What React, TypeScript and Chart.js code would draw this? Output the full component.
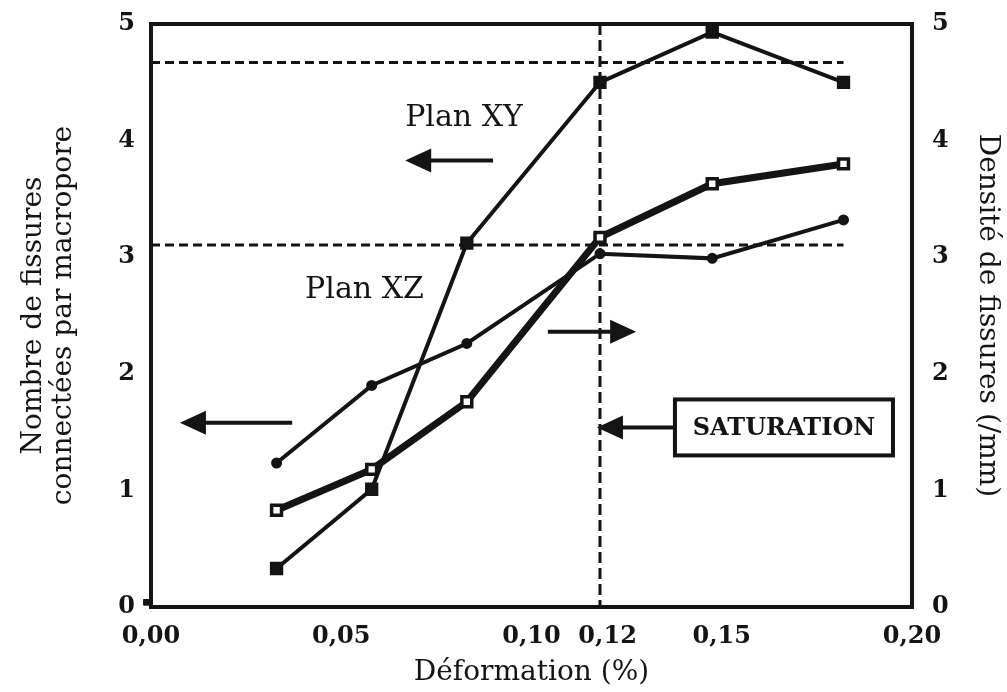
import React, { useEffect, useRef } from "react";
import { Chart, registerables } from "chart.js";

Chart.register(...registerables);

// ---- data ----
const deformation = [0.033, 0.058, 0.083, 0.118, 0.1475, 0.182];
const planXY = [0.33, 1.01, 3.12, 4.5, 4.93, 4.5];
const planXZ = [1.235, 1.9, 2.26, 3.03, 2.99, 3.32];
const densite = [0.83, 1.18, 1.76, 3.17, 3.63, 3.8];
const originMarkX = [-0.0012];
const originMarkY = [0.04];
const xTickValues = [0, 0.05, 0.1, 0.12, 0.15, 0.2];
const yTickValues = [0, 1, 2, 3, 4, 5];
const saturationX = 0.118;
const plateauXY = 4.67;
const plateauDensite = 3.105;
const plateauEndX = 0.182;

const INK = "#141414";
const FONT = "'DejaVu Serif', serif";

// annotation anchors (data units)
const notes = {
  xyText: { x: 0.0668, y: 4.19, text: "Plan XY" },
  xyArrow: { x0: 0.0899, x1: 0.0668, y: 3.83 },
  xzText: { x: 0.0405, y: 2.72, text: "Plan XZ" },
  xzArrow: { x0: 0.0371, x1: 0.0076, y: 1.58 },
  rightArrow: { x0: 0.1043, x1: 0.1275, y: 2.36 },
  satArrow: { x0: 0.1377, x1: 0.1172, y: 1.54 },
  satBox: { x0: 0.1377, x1: 0.195, y0: 1.78, y1: 1.3, text: "SATURATION" },
};

function arrow(ctx: CanvasRenderingContext2D, xa: number, xb: number, y: number) {
  const dir = xb > xa ? 1 : -1;
  const headLen = 26;
  const half = 12;
  ctx.beginPath();
  ctx.lineWidth = 4;
  ctx.moveTo(xa, y);
  ctx.lineTo(xb - dir * headLen * 0.8, y);
  ctx.stroke();
  ctx.beginPath();
  ctx.moveTo(xb, y);
  ctx.lineTo(xb - dir * headLen, y - half);
  ctx.lineTo(xb - dir * headLen, y + half);
  ctx.closePath();
  ctx.fill();
}

const decorPlugin = {
  id: "decor",
  beforeDatasetsDraw(chart: any) {
    const { ctx, chartArea } = chart;
    const xs = chart.scales.x;
    const ys = chart.scales.y;
    ctx.save();
    ctx.strokeStyle = INK;
    ctx.lineWidth = 3;
    ctx.setLineDash([9, 5]);
    for (const v of [plateauXY, plateauDensite]) {
      ctx.beginPath();
      ctx.moveTo(xs.getPixelForValue(0), ys.getPixelForValue(v));
      ctx.lineTo(xs.getPixelForValue(plateauEndX), ys.getPixelForValue(v));
      ctx.stroke();
    }
    ctx.setLineDash([11, 5]);
    ctx.beginPath();
    const sx = xs.getPixelForValue(saturationX);
    ctx.moveTo(sx, chartArea.top);
    ctx.lineTo(sx, chartArea.bottom);
    ctx.stroke();
    ctx.restore();
  },
  afterDatasetsDraw(chart: any) {
    const { ctx, chartArea } = chart;
    const xs = chart.scales.x;
    const ys = chart.scales.y;
    const px = (v: number) => xs.getPixelForValue(v);
    const py = (v: number) => ys.getPixelForValue(v);
    ctx.save();
    // frame
    ctx.strokeStyle = INK;
    ctx.fillStyle = INK;
    ctx.lineWidth = 4;
    ctx.strokeRect(chartArea.left, chartArea.top, chartArea.right - chartArea.left, chartArea.bottom - chartArea.top);

    // arrows
    arrow(ctx, px(notes.xyArrow.x0), px(notes.xyArrow.x1), py(notes.xyArrow.y));
    arrow(ctx, px(notes.xzArrow.x0), px(notes.xzArrow.x1), py(notes.xzArrow.y));
    arrow(ctx, px(notes.rightArrow.x0), px(notes.rightArrow.x1), py(notes.rightArrow.y));
    arrow(ctx, px(notes.satArrow.x0), px(notes.satArrow.x1), py(notes.satArrow.y));

    // texts
    ctx.textBaseline = "middle";
    ctx.textAlign = "left";
    ctx.font = `30px ${FONT}`;
    ctx.fillText(notes.xyText.text, px(notes.xyText.x), py(notes.xyText.y));
    ctx.fillText(notes.xzText.text, px(notes.xzText.x), py(notes.xzText.y));

    // saturation box
    const b = notes.satBox;
    const bx0 = px(b.x0), bx1 = px(b.x1), by0 = py(b.y0), by1 = py(b.y1);
    ctx.fillStyle = "#ffffff";
    ctx.fillRect(bx0, by0, bx1 - bx0, by1 - by0);
    ctx.lineWidth = 4;
    ctx.strokeRect(bx0, by0, bx1 - bx0, by1 - by0);
    ctx.fillStyle = INK;
    ctx.textAlign = "center";
    ctx.font = `bold 24px ${FONT}`;
    ctx.fillText(b.text, (bx0 + bx1) / 2, (by0 + by1) / 2 + 1);
    ctx.restore();
  },
};

const fmtX = (v: number) => v.toFixed(2).replace(".", ",");

export default function App() {
  const ref = useRef<HTMLCanvasElement | null>(null);

  useEffect(() => {
    if (!ref.current) return;
    const tickFont = { family: FONT, size: 24, weight: "bold" as const };
    const titleFont = { family: FONT, size: 28, weight: "normal" as const, lineHeight: 1.1 };
    const pts = (xs: number[], ys: number[]) => xs.map((x, i) => ({ x, y: ys[i] }));
    const fitY = (w: number) => (scale: any) => {
      scale.width = w;
      scale.paddingTop = 0;
      scale.paddingBottom = 0;
    };

    const chart = new Chart(ref.current, {
      type: "line",
      data: {
        datasets: [
          {
            label: "Plan XY",
            data: pts(deformation, planXY),
            yAxisID: "y",
            borderColor: INK,
            backgroundColor: INK,
            borderWidth: 4,
            pointStyle: "rect",
            pointRadius: 8,
            pointBorderWidth: 2,
            pointBackgroundColor: INK,
            pointBorderColor: INK,
            tension: 0,
          },
          {
            label: "Plan XZ",
            data: pts(deformation, planXZ),
            yAxisID: "y",
            borderColor: INK,
            backgroundColor: INK,
            borderWidth: 4,
            pointStyle: "circle",
            pointRadius: 4.5,
            pointBorderWidth: 2,
            pointBackgroundColor: INK,
            pointBorderColor: INK,
            tension: 0,
          },
          {
            label: "Densité de fissures",
            data: pts(deformation, densite),
            yAxisID: "y1",
            borderColor: INK,
            backgroundColor: "#ffffff",
            borderWidth: 7,
            pointStyle: "rect",
            pointRadius: 7,
            pointBorderWidth: 3.5,
            pointBackgroundColor: "#ffffff",
            pointBorderColor: INK,
            tension: 0,
          },
          {
            label: "origine",
            data: pts(originMarkX, originMarkY),
            yAxisID: "y",
            showLine: false,
            clip: false,
            pointStyle: "rect",
            pointRadius: 4,
            pointBorderWidth: 1,
            pointBackgroundColor: INK,
            pointBorderColor: INK,
          },
        ],
      },
      options: {
        responsive: false,
        animation: false,
        events: [],
        layout: { padding: { top: 24, left: 0, right: 0, bottom: 0 } },
        plugins: { legend: { display: false }, tooltip: { enabled: false } },
        scales: {
          x: {
            type: "linear",
            min: 0,
            max: 0.2,
            afterBuildTicks: (scale: any) => {
              scale.ticks = xTickValues.map((value) => ({ value }));
            },
            afterFit: (scale: any) => {
              scale.height = 85;
              scale.paddingLeft = 0;
              scale.paddingRight = 0;
            },
            grid: { display: false, drawTicks: false },
            border: { display: false },
            ticks: {
              color: INK,
              font: tickFont,
              padding: 15,
              maxRotation: 0,
              autoSkip: false,
              callback: (v: any) => fmtX(Number(v)),
            },
            title: {
              display: true,
              text: "Déformation (%)",
              color: INK,
              font: titleFont,
              padding: { top: 0, bottom: 4 },
            },
          },
          y: {
            position: "left",
            min: 0,
            max: 5,
            afterBuildTicks: (scale: any) => {
              scale.ticks = yTickValues.map((value) => ({ value }));
            },
            afterFit: fitY(151),
            grid: { display: false, drawTicks: false },
            border: { display: false },
            ticks: { color: INK, font: tickFont, padding: 16 },
            title: {
              display: true,
              text: ["Nombre de fissures", "connectées par macropore"],
              color: INK,
              font: titleFont,
              padding: { top: 18, bottom: 0 },
            },
          },
          y1: {
            position: "right",
            min: 0,
            max: 5,
            afterBuildTicks: (scale: any) => {
              scale.ticks = yTickValues.map((value) => ({ value }));
            },
            afterFit: fitY(95),
            grid: { display: false, drawTicks: false },
            border: { display: false },
            ticks: { color: INK, font: tickFont, padding: 20 },
            title: {
              display: true,
              text: "Densité de fissures (/mm)",
              color: INK,
              font: titleFont,
              padding: { top: 4, bottom: 0 },
            },
          },
        },
      },
      plugins: [decorPlugin],
    });
    return () => chart.destroy();
  }, []);

  return (
    <div style={{ position: "fixed", left: 0, top: 0, width: 1007, height: 692, background: "#fff" }}>
      <canvas ref={ref} width={1007} height={692} style={{ width: 1007, height: 692 }} />
    </div>
  );
}
